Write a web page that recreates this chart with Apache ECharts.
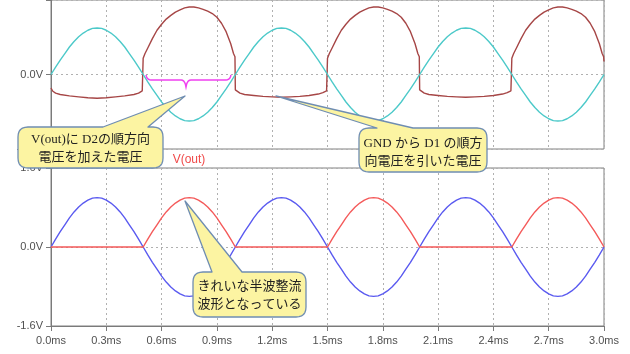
<!DOCTYPE html>
<html>
<head>
<meta charset="utf-8">
<script src="https://cdn.jsdelivr.net/npm/echarts@6/dist/echarts.min.js"></script>
<style>
html,body{margin:0;padding:0;background:#fff;}
#c{width:630px;height:354px;}
</style>
</head>
<body>
<div id="c"></div>
<script>
// ---- data (time in ms, voltage in V) ----
const sampleStep = 0.025; // ms between samples of vIn / vOut
const vIn = [
 0, 0.16, 0.31, 0.45, 0.59, 0.71, 0.81, 0.89, 0.95, 0.99, 1.00, 0.99, 0.95, 0.89, 0.81, 0.71, 0.59, 0.45, 0.31, 0.16,
 0, -0.16, -0.31, -0.45, -0.59, -0.71, -0.81, -0.89, -0.95, -0.99, -1.00, -0.99, -0.95, -0.89, -0.81, -0.71, -0.59, -0.45, -0.31, -0.16,
 0, 0.16, 0.31, 0.45, 0.59, 0.71, 0.81, 0.89, 0.95, 0.99, 1.00, 0.99, 0.95, 0.89, 0.81, 0.71, 0.59, 0.45, 0.31, 0.16,
 0, -0.16, -0.31, -0.45, -0.59, -0.71, -0.81, -0.89, -0.95, -0.99, -1.00, -0.99, -0.95, -0.89, -0.81, -0.71, -0.59, -0.45, -0.31, -0.16,
 0, 0.16, 0.31, 0.45, 0.59, 0.71, 0.81, 0.89, 0.95, 0.99, 1.00, 0.99, 0.95, 0.89, 0.81, 0.71, 0.59, 0.45, 0.31, 0.16,
 0, -0.16, -0.31, -0.45, -0.59, -0.71, -0.81, -0.89, -0.95, -0.99, -1.00, -0.99, -0.95, -0.89, -0.81, -0.71, -0.59, -0.45, -0.31, -0.16,
 0
];
const vOut = [
 0, 0, 0, 0, 0, 0, 0, 0, 0, 0, 0, 0, 0, 0, 0, 0, 0, 0, 0, 0,
 0, 0.16, 0.31, 0.45, 0.59, 0.71, 0.81, 0.89, 0.95, 0.99, 1.00, 0.99, 0.95, 0.89, 0.81, 0.71, 0.59, 0.45, 0.31, 0.16,
 0, 0, 0, 0, 0, 0, 0, 0, 0, 0, 0, 0, 0, 0, 0, 0, 0, 0, 0, 0,
 0, 0.16, 0.31, 0.45, 0.59, 0.71, 0.81, 0.89, 0.95, 0.99, 1.00, 0.99, 0.95, 0.89, 0.81, 0.71, 0.59, 0.45, 0.31, 0.16,
 0, 0, 0, 0, 0, 0, 0, 0, 0, 0, 0, 0, 0, 0, 0, 0, 0, 0, 0, 0,
 0, 0.16, 0.31, 0.45, 0.59, 0.71, 0.81, 0.89, 0.95, 0.99, 1.00, 0.99, 0.95, 0.89, 0.81, 0.71, 0.59, 0.45, 0.31, 0.16,
 0
];
const vNodeTime = [
 0, 0.01, 0.025, 0.05, 0.1, 0.15, 0.2, 0.25, 0.3, 0.35, 0.4, 0.45, 0.475, 0.495,
 0.5, 0.51, 0.525, 0.55, 0.575, 0.6, 0.625, 0.65, 0.675, 0.7, 0.725, 0.75, 0.775, 0.8, 0.825, 0.85, 0.875, 0.9, 0.925, 0.95, 0.975, 0.99, 0.998,
 1.0, 1.01, 1.025, 1.05, 1.1, 1.15, 1.2, 1.25, 1.3, 1.35, 1.4, 1.45, 1.475, 1.495,
 1.5, 1.51, 1.525, 1.55, 1.575, 1.6, 1.625, 1.65, 1.675, 1.7, 1.725, 1.75, 1.775, 1.8, 1.825, 1.85, 1.875, 1.9, 1.925, 1.95, 1.975, 1.99, 1.998,
 2.0, 2.01, 2.025, 2.05, 2.1, 2.15, 2.2, 2.25, 2.3, 2.35, 2.4, 2.45, 2.475, 2.495,
 2.5, 2.51, 2.525, 2.55, 2.575, 2.6, 2.625, 2.65, 2.675, 2.7, 2.725, 2.75, 2.775, 2.8, 2.825, 2.85, 2.875, 2.9, 2.925, 2.95, 2.975, 2.99, 2.998,
 3.0
];
const vNode = [
 -0.29, -0.36, -0.40, -0.43, -0.46, -0.48, -0.50, -0.51, -0.50, -0.48, -0.46, -0.43, -0.40, -0.35,
 0.35, 0.45, 0.57, 0.77, 0.95, 1.08, 1.19, 1.27, 1.34, 1.39, 1.43, 1.45, 1.45, 1.43, 1.40, 1.36, 1.31, 1.23, 1.10, 0.92, 0.66, 0.45, 0.38,
 -0.33, -0.37, -0.40, -0.43, -0.45, -0.47, -0.48, -0.49, -0.48, -0.47, -0.45, -0.42, -0.39, -0.35,
 0.35, 0.45, 0.57, 0.77, 0.95, 1.08, 1.19, 1.27, 1.34, 1.39, 1.43, 1.45, 1.45, 1.43, 1.40, 1.36, 1.31, 1.23, 1.10, 0.92, 0.66, 0.45, 0.38,
 -0.33, -0.37, -0.40, -0.43, -0.45, -0.47, -0.48, -0.49, -0.48, -0.47, -0.45, -0.42, -0.39, -0.35,
 0.35, 0.45, 0.57, 0.77, 0.95, 1.08, 1.19, 1.27, 1.34, 1.39, 1.43, 1.45, 1.45, 1.43, 1.40, 1.36, 1.31, 1.23, 1.10, 0.92, 0.66, 0.45, 0.38,
 0.28
];
const timeTicks = { min: 0, max: 3, interval: 0.3 };
const voltTicks = { min: -1.6, max: 1.6, interval: 1.6 };
const traceLabel = 'V(out)';
const notes = [
  'V(out)に D2の順方向\n電圧を加えた電圧',
  'GND から D1 の順方\n向電圧を引いた電圧',
  'きれいな半波整流\n波形となっている'
];

// ---- chart ----
const chart = echarts.init(document.getElementById('c'), null, { renderer: 'canvas' });
const gridLine = { show: true, lineStyle: { color: '#b0b0b0', type: [2, 3], width: 1 } };
const axisGrey = '#7a7a7a';
const labelFont = { color: '#505050', fontSize: 11, fontFamily: 'Liberation Sans, Arial, sans-serif' };

function xAx(i, showLabels) {
  return {
    gridIndex: i, type: 'value', min: timeTicks.min, max: timeTicks.max, interval: timeTicks.interval,
    axisLine: { show: showLabels, onZero: false, lineStyle: { color: axisGrey } },
    axisTick: { show: showLabels, length: 5, lineStyle: { color: axisGrey } },
    axisLabel: Object.assign({ show: showLabels, margin: 9, formatter: v => v.toFixed(1) + 'ms' }, labelFont),
    splitLine: gridLine
  };
}
function yAx(i, hideTop) {
  return {
    gridIndex: i, type: 'value', min: voltTicks.min, max: voltTicks.max, interval: voltTicks.interval,
    axisLine: { show: true, lineStyle: { color: axisGrey } },
    axisTick: { show: true, length: 5, lineStyle: { color: axisGrey } },
    axisLabel: Object.assign({ margin: 8, formatter: v => {
      if (hideTop && v > 0.01) return '';
      return (Math.abs(v) < 1e-9 ? '0.0' : v.toFixed(1)) + 'V';
    } }, labelFont),
    splitLine: gridLine
  };
}
const lineSeries = (xi, data, color) => ({
  type: 'line', xAxisIndex: xi, yAxisIndex: xi, data, symbol: 'none', showSymbol: false,
  lineStyle: { color, width: 1.4 }, clip: true, silent: true, animation: false
});

// quadratic bezier sampler for annotation outlines
function quad(p0, c, p1, n) {
  const out = [];
  for (let k = 1; k <= n; k++) {
    const s = k / n, a = (1 - s) * (1 - s), b = 2 * (1 - s) * s, d = s * s;
    out.push([a * p0[0] + b * c[0] + d * p1[0], a * p0[1] + b * c[1] + d * p1[1]]);
  }
  return out;
}
// speech bubble outline: rounded rect with a tail on the top edge
function bubblePoints(x, y, w, h, r, bl, br, tx, ty) {
  let pts = [[x + r, y], [bl, y], [tx, ty], [br, y], [x + w - r, y]];
  pts = pts.concat(quad([x + w - r, y], [x + w, y], [x + w, y + r], 6));
  pts.push([x + w, y + h - r]);
  pts = pts.concat(quad([x + w, y + h - r], [x + w, y + h], [x + w - r, y + h], 6));
  pts.push([x + r, y + h]);
  pts = pts.concat(quad([x + r, y + h], [x, y + h], [x, y + h - r], 6));
  pts.push([x, y + r]);
  pts = pts.concat(quad([x, y + r], [x, y], [x + r, y], 6));
  return pts;
}
function bracePoints() {
  let pts = [[146, 75]];
  pts = pts.concat(quad([146, 75], [147, 80], [151, 80], 5));
  pts.push([181, 80]);
  pts = pts.concat(quad([181, 80], [185, 80], [186, 87], 5));
  pts = pts.concat(quad([186, 87], [187, 80], [191, 80], 5));
  pts.push([226, 80]);
  pts = pts.concat(quad([226, 80], [230, 80], [231, 75], 5));
  return pts;
}
const bubbleStyle = { fill: '#fcf4a2', stroke: '#6f8db2', lineWidth: 1.3, lineJoin: 'round' };
const noteFont = { fontSize: 13, fontFamily: "'Liberation Serif', 'Noto Sans CJK JP', serif", fill: '#222',
  align: 'center', verticalAlign: 'middle', lineHeight: 18 };

const graphics = [
  { type: 'polyline', z: 50, shape: { points: bracePoints() },
    style: { fill: null, stroke: '#f040f0', lineWidth: 1.5 } },
  { type: 'text', z: 50, x: 189, y: 160, style: { text: traceLabel, fill: '#f04a4a', fontSize: 12,
    fontFamily: 'Liberation Sans, Arial, sans-serif', align: 'center', verticalAlign: 'middle' } },
  { type: 'polygon', z: 60, shape: { points: bubblePoints(18, 127, 145, 41, 10, 103, 148, 185, 96) }, style: bubbleStyle },
  { type: 'text', z: 61, x: 90.5, y: 149, style: Object.assign({ text: notes[0] }, noteFont) },
  { type: 'polygon', z: 60, shape: { points: bubblePoints(359, 128, 128, 44, 10, 377, 413, 276, 96) }, style: bubbleStyle },
  { type: 'text', z: 61, x: 423, y: 153, style: Object.assign({ text: notes[1] }, noteFont) },
  { type: 'polygon', z: 60, shape: { points: bubblePoints(193, 272, 113, 45, 10, 212, 242, 185, 201) }, style: bubbleStyle },
  { type: 'text', z: 61, x: 249.5, y: 296, style: Object.assign({ text: notes[2] }, noteFont) }
];

chart.setOption({
  animation: false,
  backgroundColor: '#ffffff',
  grid: [
    { left: 51, right: 26, top: -7, height: 156, show: true, borderColor: '#808080', borderWidth: 1, containLabel: false },
    { left: 51, right: 26, top: 168, height: 158, show: true, borderColor: '#808080', borderWidth: 1, containLabel: false }
  ],
  xAxis: [xAx(0, false), xAx(1, true)],
  yAxis: [yAx(0, true), yAx(1, false)],
  series: [
    lineSeries(0, vNodeTime.map((t, i) => [t, vNode[i]]), '#a64646'),
    lineSeries(0, vIn.map((v, i) => [i * sampleStep, v]), '#4cc9c9'),
    lineSeries(1, vIn.map((v, i) => [i * sampleStep, v]), '#5a5af0'),
    lineSeries(1, vOut.map((v, i) => [i * sampleStep, v]), '#f45a5a')
  ],
  graphic: graphics
});
</script>
</body>
</html>
